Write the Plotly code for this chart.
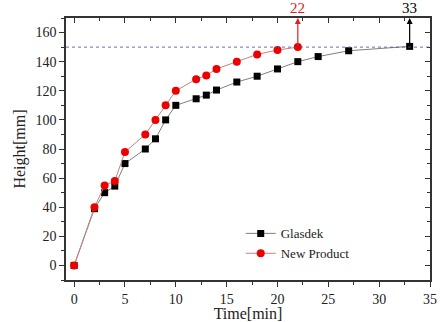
import plotly.graph_objects as go

glasdek_t = [0, 2, 3, 4, 5, 7, 8, 9, 10, 12, 13, 14, 16, 18, 20, 22, 24, 27, 33]
glasdek_h = [0, 39, 50, 54.5, 70, 80, 87, 100, 110, 114.5, 117, 120.5, 126, 130, 135, 140, 143.5, 147.5, 150.5]
new_t = [0, 2, 3, 4, 5, 7, 8, 9, 10, 12, 13, 14, 16, 18, 20, 22]
new_h = [0, 40, 55, 58, 78, 90, 100, 110, 120, 128, 130.5, 135, 140, 145, 148, 150]
ref_level = 150
x_ticks = [0, 5, 10, 15, 20, 25, 30, 35]
y_ticks = [0, 20, 40, 60, 80, 100, 120, 140, 160]
XR = [-0.8, 35]
YR = [-10, 170]
FONT = "Liberation Serif"

fig = go.Figure()
fig.add_trace(go.Scatter(x=glasdek_t, y=glasdek_h, mode="lines+markers", name="Glasdek",
                         line=dict(color="#7f7f7f", width=1),
                         marker=dict(symbol="square", size=7, color="black")))
fig.add_trace(go.Scatter(x=new_t, y=new_h, mode="lines+markers", name="New Product",
                         line=dict(color="#c48484", width=1),
                         marker=dict(symbol="circle", size=8, color="#ee0000")))
fig.add_trace(go.Scatter(x=[XR[0]], y=[YR[0]], xaxis="x2", yaxis="y2", mode="markers",
                         marker=dict(opacity=0), showlegend=False, hoverinfo="skip"))

fig.add_shape(type="line", xref="x", yref="y", x0=XR[0], x1=XR[1], y0=ref_level, y1=ref_level,
              line=dict(color="#4a4a90", width=0.8, dash="dot"))

for t, h, col in [(new_t[-1], new_h[-1], "#e02020"), (glasdek_t[-1], glasdek_h[-1], "black")]:
    fig.add_annotation(x=t, y=YR[1], ax=t, ay=h, xref="x", yref="y", axref="x", ayref="y",
                       text="", showarrow=True, arrowhead=2, arrowsize=1, arrowwidth=1.2,
                       arrowcolor=col)
    fig.add_annotation(x=t, y=YR[1], xref="x", yref="y", text=str(t), showarrow=False,
                       yanchor="bottom", yshift=0, font=dict(family=FONT, size=15, color=col))

axis_common = dict(showline=True, linecolor="#333", linewidth=1.5, showgrid=False, zeroline=False,
                   ticklen=5, tickwidth=1, tickcolor="#333", automargin=False,
                   tickfont=dict(family=FONT, size=14, color="#222"))
fig.update_layout(
    width=443, height=322, margin=dict(l=66, r=13, t=18, b=42, autoexpand=False),
    plot_bgcolor="white", paper_bgcolor="white",
    font=dict(family=FONT, size=13, color="#222"),
    xaxis=dict(range=XR, tickvals=x_ticks, ticks="outside",
               minor=dict(dtick=2.5, tick0=0, ticks="outside", ticklen=3, tickcolor="#333"),
               title=dict(text="Time[min]", font=dict(family=FONT, size=16), standoff=0), **axis_common),
    yaxis=dict(range=YR, tickvals=y_ticks, ticks="outside",
               minor=dict(dtick=10, tick0=0, ticks="outside", ticklen=3, tickcolor="#333"),
               title=dict(text="Height[mm]", font=dict(family=FONT, size=16), standoff=6), **axis_common),
    xaxis2=dict(range=XR, overlaying="x", side="top", tickvals=x_ticks, ticks="inside",
                showticklabels=False, anchor="y2",
                minor=dict(dtick=2.5, tick0=0, ticks="inside", ticklen=3, tickcolor="#333"),
                **axis_common),
    yaxis2=dict(range=YR, overlaying="y", side="right", tickvals=y_ticks, ticks="inside",
                showticklabels=False, anchor="x2",
                minor=dict(dtick=10, tick0=0, ticks="inside", ticklen=3, tickcolor="#333"),
                **axis_common),
    legend=dict(x=0.48, y=0.235, xanchor="left", yanchor="top", bgcolor="rgba(0,0,0,0)",
                font=dict(family=FONT, size=13), tracegroupgap=0, itemwidth=30),
    showlegend=True,
)
fig.write_html("out.html")
